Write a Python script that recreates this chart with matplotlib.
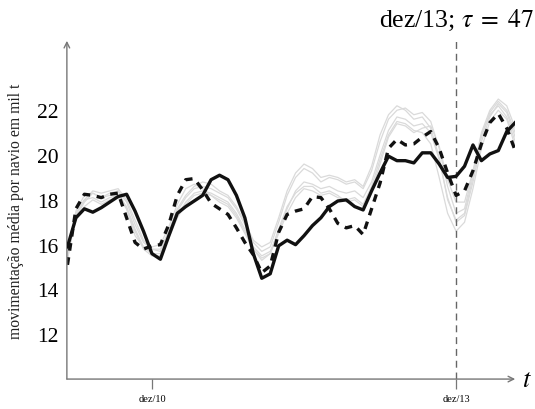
import matplotlib
matplotlib.use("Agg")
import matplotlib.pyplot as plt
import matplotlib.transforms as mtransforms

# months: jan/10 = 0, so dez/10 = 11 and dez/13 = 47
months = list(range(1, 55))

# observed moving average (solid)
observed = [15.9, 17.2, 17.6, 17.45, 17.65, 17.9, 18.15, 18.25, 17.5, 16.6, 15.6, 15.35,
            16.4, 17.4, 17.7, 17.95, 18.2, 18.9, 19.1, 18.9, 18.2, 17.2, 15.6, 14.5,
            14.7, 15.95, 16.2, 16.0, 16.4, 16.85, 17.2, 17.7, 17.95, 18.0, 17.7, 17.55,
            18.4, 19.2, 19.95, 19.75, 19.75, 19.65, 20.1, 20.1, 19.6, 19.0, 19.05, 19.5,
            20.45, 19.75, 20.05, 20.2, 21.05, 21.45]

# model (dashed)
model = [15.1, 17.6, 18.25, 18.2, 18.1, 18.25, 18.3, 17.2, 16.1, 15.8, 15.95, 16.0,
         16.9, 18.2, 18.9, 18.95, 18.45, 17.85, 17.6, 17.35, 16.75, 16.1, 15.55, 14.75,
         15.05, 16.55, 17.35, 17.5, 17.6, 18.15, 18.1, 17.6, 16.95, 16.75, 16.85, 16.45,
         17.6, 18.75, 20.3, 20.7, 20.45, 20.5, 20.8, 21.05, 20.3, 19.2, 18.2, 18.4,
         19.3, 20.5, 21.45, 21.85, 21.2, 20.2]

# light grey runs
run1 = [15.4, 17.2, 17.9, 18.3, 18.1, 18.3, 18.4, 17.9, 16.9, 16.1, 15.8, 15.8,
        16.6, 17.5, 18.1, 18.5, 18.6, 18.5, 18.3, 18.1, 17.6, 16.9, 16.1, 15.7, 15.9, 17.0,
        18.2, 19.0, 19.4, 19.2, 18.8, 19.0, 18.9, 18.7, 18.8, 18.5,
        19.3, 20.6, 21.6, 22.0, 22.1, 21.8, 21.9, 21.5, 20.3, 18.6, 17.4, 17.6,
        19.2, 21.0, 22.0, 22.5, 22.2, 21.2]
run2 = [15.6, 17.4, 18.0, 18.1, 17.9, 18.1, 18.2, 17.7, 16.7, 15.9, 15.6, 15.6,
        16.4, 17.3, 17.9, 18.3, 18.4, 18.3, 18.1, 17.9, 17.4, 16.7, 15.9, 15.5, 15.7, 16.6,
        17.6, 18.4, 18.8, 18.7, 18.5, 18.6, 18.4, 18.3, 18.4, 18.1,
        18.8, 20.0, 21.1, 21.7, 21.6, 21.3, 21.4, 21.0, 19.8, 18.1, 17.0, 17.3,
        18.8, 20.6, 21.7, 22.3, 21.9, 20.8]
run3 = [15.3, 17.5, 18.2, 18.3, 18.1, 18.2, 18.4, 17.6, 16.4, 15.9, 15.9, 16.0,
        16.8, 17.8, 18.5, 18.7, 18.5, 18.2, 17.9, 17.7, 17.2, 16.5, 15.8, 15.3, 15.6, 16.7,
        17.7, 18.3, 18.6, 18.6, 18.3, 18.4, 18.2, 17.9, 18.0, 17.7,
        18.4, 19.6, 20.8, 21.4, 21.3, 21.0, 21.2, 21.3, 20.4, 18.9, 17.9, 17.9,
        19.3, 20.9, 21.8, 22.2, 21.7, 20.6]
run4 = [15.7, 17.1, 17.7, 18.0, 17.8, 18.0, 18.1, 17.6, 16.6, 15.8, 15.5, 15.5,
        16.3, 17.2, 17.8, 18.2, 18.3, 18.2, 18.0, 17.8, 17.3, 16.6, 15.8, 15.4, 15.6, 16.5,
        17.4, 18.1, 18.5, 18.4, 18.2, 18.3, 18.1, 18.0, 18.1, 17.8,
        18.6, 19.8, 20.9, 21.5, 21.4, 21.1, 21.0, 20.5, 19.0, 17.4, 16.6, 17.0,
        18.5, 20.3, 21.5, 22.0, 21.6, 20.4]
run5 = [15.5, 17.3, 18.0, 18.4, 18.3, 18.4, 18.5, 18.0, 17.1, 16.2, 15.8, 15.7,
        16.6, 17.6, 18.2, 18.6, 18.8, 18.7, 18.4, 18.2, 17.7, 17.0, 16.2, 15.9, 16.1, 17.2,
        18.4, 19.2, 19.6, 19.4, 19.0, 19.1, 19.0, 18.8, 18.9, 18.6,
        19.5, 20.9, 21.8, 22.2, 22.0, 21.6, 21.7, 21.2, 19.9, 18.0, 17.1, 17.4,
        19.0, 20.8, 21.9, 22.4, 22.0, 21.0]
runs = [run1, run2, run3, run4, run5]

tick_pos = [11, 47]
tick_labels = ["dez/10", "dez/13"]
yticks = [12, 14, 16, 18, 20, 22]
tau = 47

plt.rcParams['font.family'] = ['Liberation Serif', 'DejaVu Serif']
plt.rcParams['mathtext.fontset'] = 'stix'

fig = plt.figure(figsize=(5.35, 4.10), dpi=100)
ax = fig.add_axes([0.125, 0.073, 0.838, 0.825])

for r in runs:
    ax.plot(months, r, color='#dadada', lw=0.9, zorder=1, solid_joinstyle='round')
ax.plot(months, model, color='#111111', lw=2.4, dashes=(2.3, 2.0), zorder=3,
        dash_joinstyle='round')
ax.plot(months, observed, color='#111111', lw=2.4, zorder=4, solid_joinstyle='round')

ax.axvline(tau, color='#666666', lw=1.0, dashes=(5.0, 3.5), zorder=2)

ax.set_xlim(0.93, 54)
ax.set_ylim(10, 25.1)

for s in ['top', 'right', 'left', 'bottom']:
    ax.spines[s].set_visible(False)
ax.annotate('', xy=(1, 0), xytext=(0, 0), xycoords='axes fraction',
            arrowprops=dict(arrowstyle='->', color='#777777', lw=1.0, shrinkA=0, shrinkB=0))
ax.annotate('', xy=(0, 1), xytext=(0, 0), xycoords='axes fraction',
            arrowprops=dict(arrowstyle='->', color='#777777', lw=1.0, shrinkA=0, shrinkB=0))

ax.set_yticks(yticks)
ax.set_yticklabels([str(v) for v in yticks], fontsize=15.5)
ax.tick_params(axis='y', length=0, pad=6)
ax.set_xticks(tick_pos)
ax.set_xticklabels(tick_labels, fontsize=7.5)
ax.tick_params(axis='x', length=7, width=0.9, color='#777777', pad=4)

ax.set_ylabel('movimentação média por navio em mil t', fontsize=11.3, labelpad=9,
              color='#222222')

trans = mtransforms.blended_transform_factory(ax.transData, fig.transFigure)
ax.text(tau, 0.951, 'dez/13; $\\tau\\;=\\;47$', transform=trans, ha='center', va='center',
        fontsize=18.5)
fig.text(527 / 535, 0.07, '$t$', ha='center', va='center', fontsize=19)

fig.savefig('out.png', dpi=100)
